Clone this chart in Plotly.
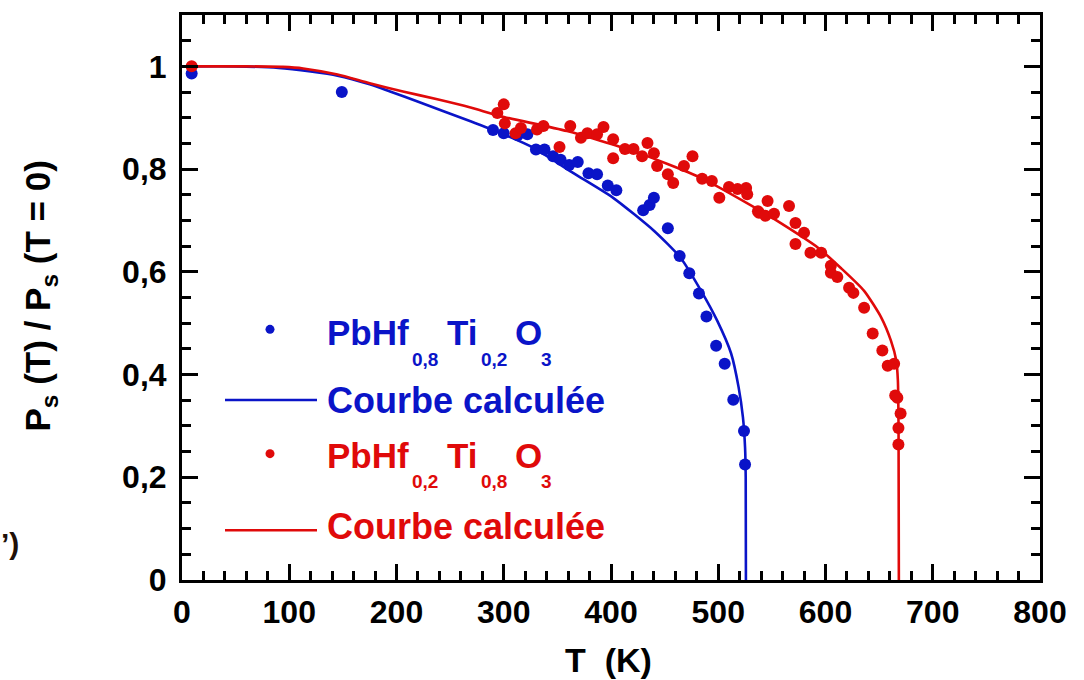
import plotly.graph_objects as go

# ---- measured polarisation, PbHf0.8Ti0.2O3 ----
blue_T = [9, 149, 290, 300, 313, 322, 330, 338, 346, 353, 361, 369, 379, 387,
          397, 405, 430, 436, 440, 453, 464, 473, 482, 489, 498, 506, 514, 524, 525]
blue_P = [0.986, 0.950, 0.876, 0.870, 0.866, 0.868, 0.838, 0.838, 0.825, 0.818,
          0.808, 0.814, 0.792, 0.790, 0.768, 0.759, 0.720, 0.730, 0.744, 0.685,
          0.631, 0.597, 0.558, 0.513, 0.456, 0.421, 0.351, 0.290, 0.225]

# ---- measured polarisation, PbHf0.2Ti0.8O3 ----
red_T = [9, 294, 300, 301, 311, 316, 331, 337, 352, 362, 372, 378, 387, 393,
         402, 402, 413, 421, 429, 434, 440, 443, 453, 458, 468, 476, 485, 494,
         501, 510, 518, 526, 527, 537, 538, 544, 546, 552, 566, 572, 580, 572,
         586, 596, 605, 605, 611, 622, 626, 636, 644, 653, 658, 664, 665, 667,
         670, 668, 668]
red_P = [1.000, 0.909, 0.926, 0.889, 0.870, 0.880, 0.877, 0.884, 0.843, 0.884,
         0.861, 0.870, 0.868, 0.882, 0.858, 0.821, 0.839, 0.839, 0.825, 0.851,
         0.831, 0.806, 0.790, 0.773, 0.806, 0.825, 0.781, 0.777, 0.744, 0.765,
         0.761, 0.763, 0.751, 0.718, 0.715, 0.709, 0.738, 0.713, 0.728, 0.695,
         0.676, 0.654, 0.637, 0.637, 0.612, 0.598, 0.590, 0.569, 0.559, 0.530,
         0.480, 0.447, 0.417, 0.421, 0.359, 0.355, 0.324, 0.296, 0.264]

# ---- calculated curves ----
blue_calc_T = [0, 50, 90, 120, 145, 175, 194, 219, 269, 288, 328, 365, 402, 440,
               465, 484, 499, 512, 519, 523, 525, 525.6, 525.8]
blue_calc_P = [1.000, 1.000, 0.997, 0.990, 0.982, 0.965, 0.951, 0.932, 0.893,
               0.878, 0.841, 0.792, 0.744, 0.680, 0.627, 0.563, 0.505, 0.441,
               0.375, 0.317, 0.258, 0.200, 0.000]

red_calc_T = [0, 60, 94, 113, 145, 175, 206, 238, 269, 297, 359, 421, 484, 540,
              552, 593, 614, 636, 652, 661, 666, 667.5, 668.1, 668.4]
red_calc_P = [1.000, 1.000, 0.999, 0.996, 0.984, 0.967, 0.951, 0.936, 0.920,
              0.903, 0.874, 0.835, 0.783, 0.718, 0.703, 0.647, 0.608, 0.563,
              0.511, 0.466, 0.427, 0.388, 0.300, 0.000]

x_ticks = [0, 100, 200, 300, 400, 500, 600, 700, 800]
x_tick_text = ["0", "100", "200", "300", "400", "500", "600", "700", "800"]
y_ticks = [0, 0.2, 0.4, 0.6, 0.8, 1.0]
y_tick_text = ["0", "0,2", "0,4", "0,6", "0,8", "1"]

BLUE = "#0a14c8"
RED = "#e00a0a"
FONT = "Liberation Sans, Arial, sans-serif"

W, H = 1084, 680
L, R, T, B = 182, 44, 12, 100


def px(xp):
    return (xp - L) / (W - L - R)


def py(yp):
    return (H - B - yp) / (H - T - B)


fig = go.Figure()
fig.add_trace(go.Scatter(x=blue_calc_T, y=blue_calc_P, mode="lines",
                         line=dict(color=BLUE, width=2.6, shape="spline", smoothing=0.6),
                         showlegend=False))
fig.add_trace(go.Scatter(x=red_calc_T, y=red_calc_P, mode="lines",
                         line=dict(color=RED, width=2.6, shape="spline", smoothing=0.6),
                         showlegend=False))
fig.add_trace(go.Scatter(x=blue_T, y=blue_P, mode="markers",
                         marker=dict(color=BLUE, size=12, line=dict(width=0)),
                         showlegend=False))
fig.add_trace(go.Scatter(x=red_T, y=red_P, mode="markers",
                         marker=dict(color=RED, size=12, line=dict(width=0)),
                         showlegend=False))

axis_common = dict(
    showline=True, linecolor="black", linewidth=3, mirror="ticks",
    ticks="inside", ticklen=16, tickwidth=3, tickcolor="black",
    showgrid=False, zeroline=False,
    tickfont=dict(family=FONT, size=32, color="black", weight="bold"),
)

fig.update_xaxes(range=[0, 800], tickmode="array", tickvals=x_ticks,
                 ticktext=x_tick_text, ticklabelstandoff=2,
                 minor=dict(tickmode="linear", tick0=0, dtick=20, ticks="inside",
                            ticklen=9, tickwidth=3, tickcolor="black"),
                 **axis_common)
fig.update_yaxes(range=[0, 1.1], tickmode="array", tickvals=y_ticks,
                 ticktext=y_tick_text, ticklabelstandoff=6,
                 minor=dict(tickmode="linear", tick0=0, dtick=0.05, ticks="inside",
                            ticklen=9, tickwidth=3, tickcolor="black"),
                 **axis_common)

annotations = []
shapes = []


def text(x, y, s, color, size, xanchor="left", angle=0):
    annotations.append(dict(
        x=px(x), y=py(y), xref="paper", yref="paper", text=s, showarrow=False,
        xanchor=xanchor, yanchor="middle", textangle=angle, borderpad=0,
        font=dict(family=FONT, size=size, color=color, weight="bold"),
    ))


# axis titles
text(40, 295, "P<sub>s</sub> (T) / P<sub>s</sub> (T = 0)", "black", 35,
     xanchor="center", angle=-90)
text(608, 660, "T\u00a0\u00a0(K)", "black", 34, xanchor="center")
text(0, 543, "’)", "#201008", 30)

# legend block
rows = [
    (BLUE, 331, 358, ["0,8", "0,2", "3"]),
    (RED, 455, 481, ["0,2", "0,8", "3"]),
]
for color, ycap, ysub, subs in rows:
    text(326, ycap, "PbHf", color, 35)
    text(411, ysub, subs[0], color, 19)
    text(446, ycap, "Ti", color, 35)
    text(480, ysub, subs[1], color, 19)
    text(514, ycap, "O", color, 35)
    text(540, ysub, subs[2], color, 19)

text(326, 400, "Courbe calculée", BLUE, 36)
text(326, 526, "Courbe calculée", RED, 36)

for color, ydot in [(BLUE, 328), (RED, 453)]:
    shapes.append(dict(type="circle", xref="paper", yref="paper",
                       x0=px(265.5), x1=px(274.5), y0=py(ydot + 4.5), y1=py(ydot - 4.5),
                       fillcolor=color, line=dict(width=0)))
for color, yline in [(BLUE, 399), (RED, 530)]:
    shapes.append(dict(type="line", xref="paper", yref="paper",
                       x0=px(225), x1=px(317), y0=py(yline), y1=py(yline),
                       line=dict(color=color, width=2.6)))

fig.update_layout(
    width=W, height=H,
    margin=dict(l=L, r=R, t=T, b=B),
    paper_bgcolor="white", plot_bgcolor="white",
    annotations=annotations, shapes=shapes,
    showlegend=False,
)

fig.write_html("out.html")
